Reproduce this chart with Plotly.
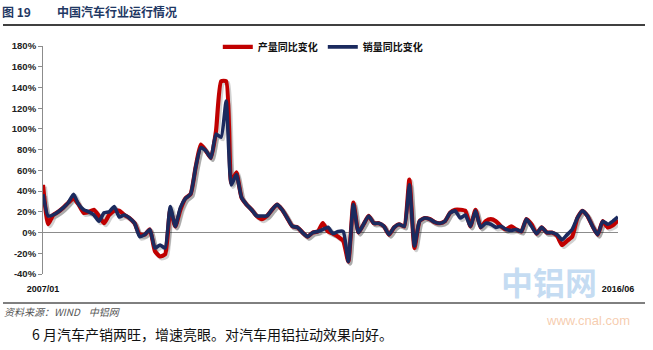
import plotly.graph_objects as go

# month index 0 = 2007/01 ... 113 = 2016/06
production = [46, 8, 17, 20, 24, 29, 33, 27, 19, 20, 22, 16, 9, 17, 21, 21, 17, 14, 9, -2,
              -2, 3, -18, -23, -21, 22, 6, 22, 33, 37, 63, 85, 79, 72, 98, 146, 146, 48, 58, 34,
              27, 22, 16, 13, 16, 22, 27, 22, 14, 6, 5, 0, -4, 0, 1, 9, 1, -1, -4, -8,
              -28, 29, 0, 8, 16, 9, 9, 6, -2, 5, 8, 6, 51, -15, 11, 14, 13, 10, 9, 11,
              19, 22, 22, 21, 6, 22, 5, 11, 13, 11, 6, 3, 6, 3, 1, 13, 8, -1, 5, 0,
              0, -3, -12, -8, -4, 14, 21, 16, 6, -2, 11, 5, 7, 12]
sales = [37, 16, 17, 20, 24, 29, 37, 27, 22, 20, 17, 11, 19, 20, 25, 15, 17, 14, 9, -4,
         -2, 3, -15, -12, -15, 25, 6, 24, 33, 37, 63, 82, 79, 72, 95, 92, 127, 46, 56, 34,
         27, 22, 16, 16, 16, 22, 27, 22, 14, 6, 5, 0, -4, 0, 1, 3, 5, -1, 1, 1,
         -28, 27, 0, 8, 16, 9, 9, 6, -2, 5, 8, 6, 46, -13, 11, 14, 13, 10, 9, 11,
         19, 21, 14, 17, 6, 21, 5, 9, 8, 5, 6, 3, 2, 3, 1, 13, 6, -1, 5, 0,
         0, -2, -7, -2, 3, 14, 21, 16, 6, -2, 11, 8, 11, 15]
tick_vals = [0, 113]
tick_text = ["2007/01", "2016/06"]
y_ticks = list(range(-40, 181, 20))
y_tick_text = [f"{v}%" for v in y_ticks]

months = list(range(len(production)))

fig = go.Figure()
# soft drop shadows
for s in (production, sales):
    fig.add_trace(go.Scatter(x=[m + 0.35 for m in months], y=[v - 1.8 for v in s],
                             mode="lines", line=dict(color="rgba(0,0,0,0.18)", width=4.5,
                                                     shape="spline", smoothing=0.5),
                             showlegend=False, hoverinfo="skip"))
fig.add_trace(go.Scatter(x=months, y=production, mode="lines", name="产量同比变化",
                         line=dict(color="#C00000", width=4.2, shape="spline", smoothing=0.5)))
fig.add_trace(go.Scatter(x=months, y=sales, mode="lines", name="销量同比变化",
                         line=dict(color="#1B2A5E", width=3.6, shape="spline", smoothing=0.5)))

fig.update_layout(
    width=653, height=350,
    margin=dict(l=43, r=35, t=46, b=76),
    paper_bgcolor="white", plot_bgcolor="white",
    font=dict(family="Liberation Sans, Arial, sans-serif", color="#222"),
    showlegend=True,
    legend=dict(orientation="h", x=0.304, y=0.996, xanchor="left", yanchor="middle",
                font=dict(family="Noto Sans CJK SC", size=10, color="#111", weight="bold"),
                itemwidth=30, tracegroupgap=0, bgcolor="rgba(0,0,0,0)"),
    xaxis=dict(range=[0, 113], tickvals=tick_vals, ticktext=tick_text, showgrid=False,
               zeroline=False, showline=False, ticks="", ticklabelstandoff=8,
               tickfont=dict(size=9, color="#111", weight="bold")),
    yaxis=dict(range=[-40, 180], tickvals=y_ticks, ticktext=y_tick_text, showgrid=False,
               zeroline=True, zerolinecolor="#8C8C8C", zerolinewidth=1,
               showline=True, linecolor="#8C8C8C", linewidth=1, ticks="outside",
               ticklen=4, tickcolor="#8C8C8C",
               tickfont=dict(size=9.5, color="#222", weight="bold")),
)

# header
fig.add_annotation(xref="paper", yref="paper", x=-43/575, y=(274-11)/228,
                   text="<b>图 19</b>", showarrow=False, xanchor="left", yanchor="middle",
                   font=dict(family="Noto Sans CJK SC", size=12, color="#1F3864"))
fig.add_annotation(xref="paper", yref="paper", x=(55-43)/575, y=(274-11)/228,
                   text="<b>中国汽车行业运行情况</b>", showarrow=False, xanchor="left", yanchor="middle",
                   font=dict(family="Noto Sans CJK SC", size=12, color="#1F3864"))
fig.add_shape(type="line", xref="paper", yref="paper", x0=(3-43)/575, x1=(645-43)/575,
              y0=(274-25)/228, y1=(274-25)/228, line=dict(color="black", width=1.5))
fig.add_shape(type="line", xref="paper", yref="paper", x0=(3-43)/575, x1=(645-43)/575,
              y0=(274-303)/228, y1=(274-303)/228, line=dict(color="black", width=1))

# watermark
fig.add_annotation(xref="paper", yref="paper", x=(549-43)/575, y=(274-281)/228,
                   text="<b>中铝网</b>", showarrow=False, xanchor="center", yanchor="middle",
                   font=dict(family="Noto Sans CJK SC", size=32, color="rgba(140,185,230,0.5)"))
fig.add_annotation(xref="paper", yref="paper", x=(588-43)/575, y=(274-320)/228,
                   text="www.cnal.com", showarrow=False, xanchor="center", yanchor="middle",
                   font=dict(family="Liberation Sans", size=13, color="rgba(240,170,120,0.6)"))

# source + body text
fig.add_annotation(xref="paper", yref="paper", x=(2-43)/575, y=(274-311)/228,
                   text="<i>资料来源：WIND    中铝网</i>", showarrow=False, xanchor="left", yanchor="middle",
                   font=dict(family="Noto Sans CJK SC", size=10, color="#555"))
fig.add_annotation(xref="paper", yref="paper", x=(30-43)/575, y=(274-334)/228,
                   text="6 月汽车产销两旺，增速亮眼。对汽车用铝拉动效果向好。", showarrow=False,
                   xanchor="left", yanchor="middle",
                   font=dict(family="Noto Sans CJK SC", size=14, color="#111"))

fig.write_html("out.html")
